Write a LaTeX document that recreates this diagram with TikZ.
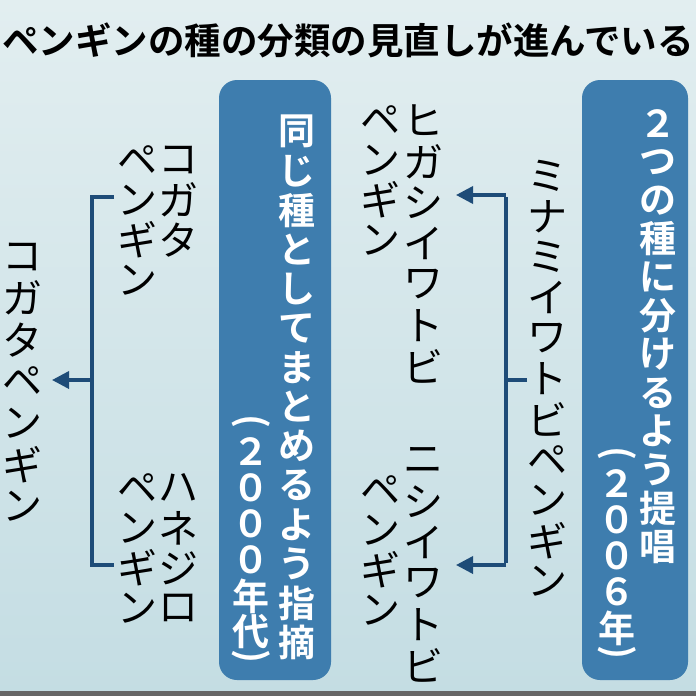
\documentclass[tikz,border=0pt]{standalone}
\usepackage{fontspec}
\setmainfont{Noto Sans CJK JP}
\newfontfamily\jpb{Noto Sans CJK JP Bold}
\usetikzlibrary{arrows.meta}
\definecolor{bgA}{HTML}{E2EEF0}
\definecolor{bgB}{HTML}{C4DDE3}
\definecolor{boxc}{HTML}{3E7DAE}
\definecolor{linec}{HTML}{1E4C78}
\tikzset{
  vt/.style={inner sep=0pt,font=\fontsize{40}{40}\selectfont,text=black},
  vb/.style={inner sep=0pt,font=\jpb\fontsize{37}{37}\selectfont,text=white},
  bluebox/.style={fill=boxc,draw=none,rounded corners=18pt},
  brk/.style={draw=linec,line width=3.5pt},
  arr/.style={brk,-{Triangle[width=17pt,length=17pt]}}
}
\newcommand\vcol[6][vt]{\foreach \c [count=\i] in {#6} {\node[#1,name=#2-\i] at (#3,{#4+(\i-0.5)*#5}) {\c};}}
\newcommand\vparen[1]{\rotatebox[origin=c]{-90}{#1}}
\begin{document}
\begin{tikzpicture}[x=1pt,y=-1pt]
\useasboundingbox (0,0) rectangle (696,696);
\shade[top color=bgA,bottom color=bgB] (0,0) rectangle (696,696);
\fill[black!60] (0,691) rectangle (696,696);
\node[inner sep=0pt,font=\jpb\fontsize{36.5}{36.5}\selectfont] (title) at (348,40) {ペンギンの種の分類の見直しが進んでいる};
% boxes
\node[bluebox,minimum width=106pt,minimum height=600pt] (boxR) at (635,380) {};
\node[bluebox,minimum width=112pt,minimum height=600pt] (boxL) at (275,380) {};
\vcol[vb]{r1}{658}{104}{38.5}{２,つ,の,種,に,分,け,る,よ,う,提,唱}
\node[vb] (r2a) at (617,456) {\vparen{(}};
\vcol[vb]{r2}{617}{466}{36}{２,０,０,６,年}
\node[vb] (r2b) at (617,655) {\vparen{)}};
\vcol[vb]{l1}{297}{112}{39.3}{同,じ,種,と,し,て,ま,と,め,る,よ,う,指,摘}
\node[vb] (l2a) at (251,424) {\vparen{(}};
\vcol[vb]{l2}{251}{434}{36}{２,０,０,０,年,代}
\node[vb] (l2b) at (251,659) {\vparen{)}};
% right group
\vcol{mn}{547}{156}{40.5}{ミ,ナ,ミ,イ,ワ,ト,ビ,ペ,ン,ギ,ン}
\vcol{hg}{423}{100}{41}{ヒ,ガ,シ,イ,ワ,ト,ビ}
\vcol{hp}{380}{100}{40}{ペ,ン,ギ,ン}
\vcol{ns}{423}{440}{41}{ニ,シ,イ,ワ,ト,ビ}
\vcol{np}{380}{470}{40}{ペ,ン,ギ,ン}
% left group
\vcol{kg}{178}{140}{40}{コ,ガ,タ}
\vcol{kp}{137}{140}{40}{ペ,ン,ギ,ン}
\vcol{hn}{178}{468}{40}{ハ,ネ,ジ,ロ}
\vcol{hnp}{137}{468}{40}{ペ,ン,ギ,ン}
\vcol{ko}{22}{236}{41.5}{コ,ガ,タ,ペ,ン,ギ,ン}
% connectors right
\coordinate (rs) at (527,380);
\coordinate (rv) at (506,380);
\coordinate (rt) at (506,195);
\coordinate (rb) at (506,565);
\coordinate (rta) at (456,195);
\coordinate (rba) at (456,565);
\draw[brk] (rs) -- (rv);
\draw[brk] ([yshift=-1.75pt]rt) -- ([yshift=1.75pt]rb);
\draw[arr] (rt) -- (rta);
\draw[arr] (rb) -- (rba);
% connectors left
\coordinate (lt) at (92,197);
\coordinate (lb) at (92,565);
\coordinate (lts) at (114,197);
\coordinate (lbs) at (114,565);
\coordinate (lm) at (92,380);
\coordinate (la) at (52,380);
\draw[brk,line join=miter] (lts) -- (lt) -- (lb) -- (lbs);
\draw[arr] (lm) -- (la);
\end{tikzpicture}
\end{document}
